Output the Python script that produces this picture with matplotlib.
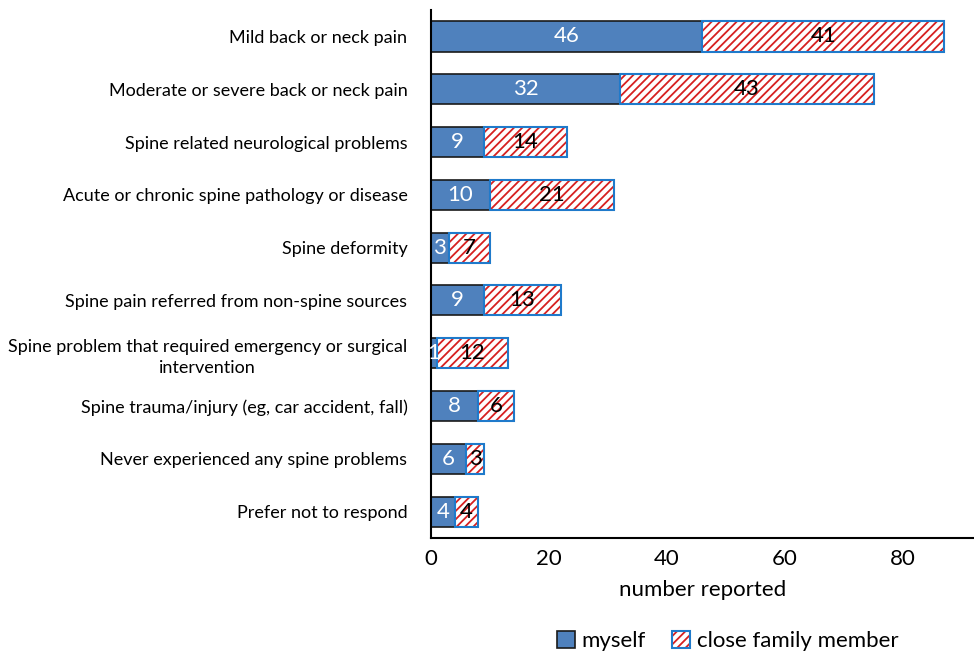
import matplotlib.pyplot as plt
from matplotlib.patches import Patch

categories = ["Mild back or neck pain",
              "Moderate or severe back or neck pain",
              "Spine related neurological problems",
              "Acute or chronic spine pathology or disease",
              "Spine deformity",
              "Spine pain referred from non-spine sources",
              "Spine problem that required emergency or surgical\nintervention",
              "Spine trauma/injury (eg, car accident, fall)",
              "Never experienced any spine problems",
              "Prefer not to respond"]
myself = [46, 32, 9, 10, 3, 9, 1, 8, 6, 4]
family = [41, 43, 14, 21, 7, 13, 12, 6, 3, 4]

plt.rcParams['font.family'] = ['Lato', 'DejaVu Sans']
plt.rcParams['hatch.linewidth'] = 1.3

fig = plt.figure(figsize=(9.74, 6.55), dpi=100)
ax = fig.add_axes([0.4425, 0.1786, 0.5575, 0.806])

y = range(len(categories))
h = 0.57
b1 = ax.barh(y, myself, height=h, color='#4F81BD', edgecolor='#1a1a1a', linewidth=1.2)
ax.barh(y, family, left=myself, height=h, color='white', edgecolor='#D62020',
        hatch='////', linewidth=0)
ax.barh(y, family, left=myself, height=h, color='none', edgecolor='#1F7ACB', linewidth=1.5)

for i in y:
    ax.text(myself[i] / 2, i, str(myself[i]), color='white', ha='center', va='center', fontsize=16)
    ax.text(myself[i] + family[i] / 2, i, str(family[i]), color='black', ha='center',
            va='center', fontsize=16)

ax.set_yticks(list(y))
ax.set_yticklabels(categories, fontsize=13, multialignment='center', linespacing=1.4)
ax.set_ylim(len(categories) - 0.5, -0.5)
ax.set_xlim(0, 92)
ax.set_xticks([0, 20, 40, 60, 80])
ax.tick_params(axis='x', labelsize=16, length=0, pad=8)
ax.tick_params(axis='y', length=0, pad=17)
ax.set_xlabel('number reported', fontsize=16, labelpad=8)

for s in ['top', 'right']:
    ax.spines[s].set_visible(False)
ax.spines['left'].set_linewidth(1.5)
ax.spines['bottom'].set_linewidth(1.5)

fam_handle = (Patch(facecolor='white', edgecolor='#D62020', hatch='////', linewidth=0),
              Patch(facecolor='none', edgecolor='#1F7ACB', linewidth=1.5))
fig.legend([b1, fam_handle], ['myself', 'close family member'], loc='lower center',
           bbox_to_anchor=(0.747, -0.025), ncol=2, frameon=False, fontsize=16,
           handlelength=0.8, handleheight=0.8, handletextpad=0.3, columnspacing=1.2)

fig.savefig('out.png', dpi=100)
